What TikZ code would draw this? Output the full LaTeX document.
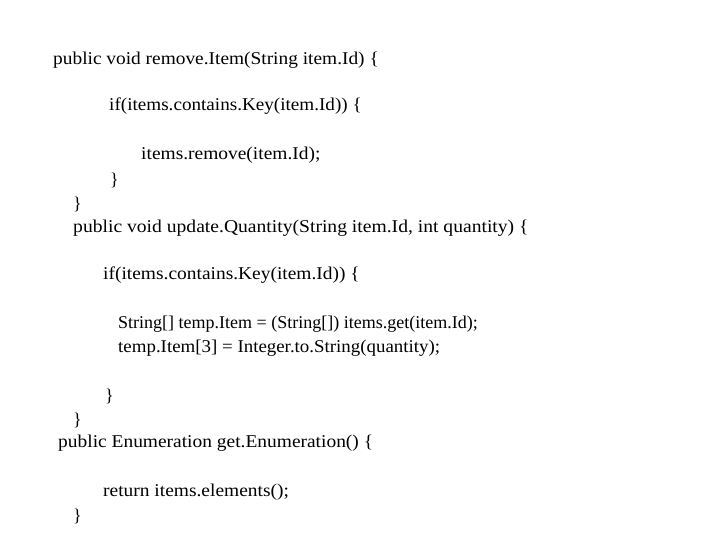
\documentclass[tikz,border=0pt]{standalone}
\usepackage{fontspec}
\usepackage{graphicx}
\setmainfont{Liberation Serif}
\begin{document}
\begin{tikzpicture}[x=1pt,y=-1pt,code/.style={anchor=west,inner sep=0pt,font=\fontsize{18}{20}\selectfont}]
\useasboundingbox (0,0) rectangle (720,540);
\node[code] (l1) at (53,60) {\scalebox{1.076}[1]{public void remove.Item(String item.Id) \{}};
\node[code] (l2) at (109,106) {\scalebox{1.063}[1]{if(items.contains.Key(item.Id)) \{}};
\node[code] (l3) at (141,155) {\scalebox{1.08}[1]{items.remove(item.Id);}};
\node[code] (l4) at (110,180) {\}};
\node[code] (l5) at (73,204) {\}};
\node[code] (l6) at (73,228) {\scalebox{1.089}[1]{public void update.Quantity(String item.Id, int quantity) \{}};
\node[code] (l7) at (103,275) {\scalebox{1.08}[1]{if(items.contains.Key(item.Id)) \{}};
\node[code] (l8) at (118,324) {\scalebox{1.0}[1]{String[] temp.Item = (String[]) items.get(item.Id);}};
\node[code] (l9) at (118,348) {\scalebox{1.05}[1]{temp.Item[3] = Integer.to.String(quantity);}};
\node[code] (l10) at (105,396) {\}};
\node[code] (l11) at (73,420) {\}};
\node[code] (l12) at (58,443) {\scalebox{1.08}[1]{public Enumeration get.Enumeration() \{}};
\node[code] (l13) at (103,492) {\scalebox{1.08}[1]{return items.elements();}};
\node[code] (l14) at (73,516) {\}};
\end{tikzpicture}
\end{document}
